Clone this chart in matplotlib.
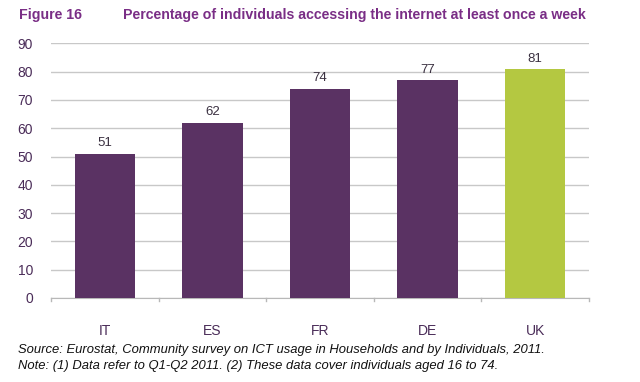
import matplotlib
matplotlib.use("Agg")
import matplotlib.pyplot as plt

# ─── Datos ────────────────────────────────────────────────────────────────────
countries = ["IT", "ES", "FR", "DE", "UK"]
values = [51, 62, 74, 77, 81]
yticks = [0, 10, 20, 30, 40, 50, 60, 70, 80, 90]

PURPLE = "#5a3263"
GREEN = "#b4c841"
TITLE_C = "#7a2e86"
TICK_C = "#4a2c58"

plt.rcParams.update({
    "font.family": ["Liberation Sans", "DejaVu Sans"],
    "font.size": 9,
})

fig = plt.figure(figsize=(6.4, 3.82), dpi=100)
ax = fig.add_axes([0.0797, 0.2199, 0.8406, 0.6667])

colors = [GREEN if c == "UK" else PURPLE for c in countries]
x = range(len(countries))
bars = ax.bar(x, values, width=0.56, color=colors, zorder=3)

for xi, v in zip(x, values):
    ax.text(xi, v + 1.5, str(v), ha="center", va="bottom",
            fontsize=9.5, color="#3a3040")

ax.set_ylim(0, 90)
ax.set_xlim(-0.5, len(countries) - 0.5)
ax.set_yticks(yticks)
ax.tick_params(axis="y", length=0, pad=13, labelcolor=TICK_C, labelsize=10)
ax.set_xticks(list(x))
ax.set_xticklabels(countries)
ax.tick_params(axis="x", length=0, pad=19, labelcolor=TICK_C, labelsize=10)

# separadores de categoria en el eje x
for b in [i - 0.5 for i in range(len(countries) + 1)]:
    ax.plot([b, b], [0, -1.2], color="#b8b8b8", lw=1, clip_on=False, zorder=2)

ax.grid(True, axis="y", color="#c8c8c8", lw=1, zorder=0)
for s in ["top", "right", "left"]:
    ax.spines[s].set_visible(False)
ax.spines["bottom"].set_color("#b8b8b8")

fig.text(0.030, 0.960, "Figure 16", fontsize=10.2, fontweight="bold",
         color=TITLE_C, va="center")
fig.text(0.192, 0.960, "Percentage of individuals accessing the internet at least once a week",
         fontsize=10.2, fontweight="bold", color=TITLE_C, va="center")

fig.text(0.028, 0.084, "Source: Eurostat, Community survey on ICT usage in Households and by Individuals, 2011.",
         fontsize=9.4, style="italic", color="#111111", va="center")
fig.text(0.028, 0.042, "Note: (1) Data refer to Q1-Q2 2011. (2) These data cover individuals aged 16 to 74.",
         fontsize=9.4, style="italic", color="#111111", va="center")

fig.savefig("out.png", dpi=100, facecolor="white")
